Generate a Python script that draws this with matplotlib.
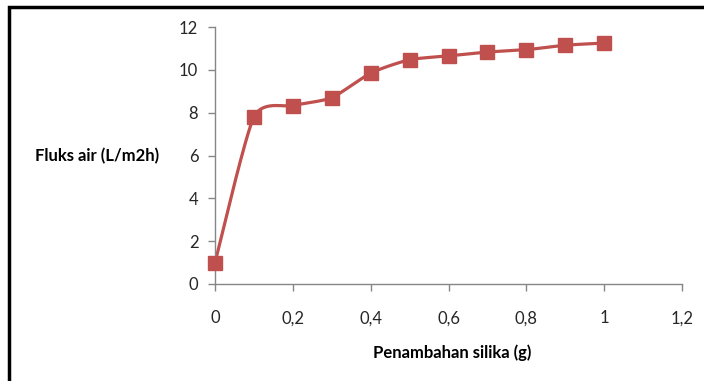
import numpy as np
import matplotlib.pyplot as plt
from matplotlib.patches import Rectangle
from matplotlib.ticker import FuncFormatter

# data
silika = [0, 0.1, 0.2, 0.3, 0.4, 0.5, 0.6, 0.7, 0.8, 0.9, 1.0]
fluks = [1.0, 7.8, 8.33, 8.7, 9.85, 10.47, 10.65, 10.83, 10.94, 11.15, 11.25]

x_ticks = [0, 0.2, 0.4, 0.6, 0.8, 1.0, 1.2]
y_ticks = [0, 2, 4, 6, 8, 10, 12]

RED = '#C0504D'
GREY = '#868686'

plt.rcParams['font.family'] = ['Lato', 'DejaVu Sans']


# Excel style smoothed line (cardinal spline as bezier segments)
def smooth(xs, ys, k=0.11, n=30):
    p = np.column_stack([xs, ys]).astype(float)
    ext = np.vstack([p[0], p, p[-1]])
    out = []
    for i in range(len(p) - 1):
        p0, p1, p2, p3 = ext[i], ext[i + 1], ext[i + 2], ext[i + 3]
        c1 = p1 + (p2 - p0) * k
        c2 = p2 - (p3 - p1) * k
        t = np.linspace(0, 1, n)[:, None]
        seg = (1 - t) ** 3 * p1 + 3 * (1 - t) ** 2 * t * c1 + 3 * (1 - t) * t ** 2 * c2 + t ** 3 * p2
        out.append(seg if i == 0 else seg[1:])
    out = np.vstack(out)
    return out[:, 0], out[:, 1]


fig = plt.figure(figsize=(7.04, 3.81), dpi=100)
ax = fig.add_axes([215 / 704, 1 - 284 / 381, 467 / 704, 257 / 381])

sx, sy = smooth(silika, fluks)
ax.plot(sx, sy, color=RED, lw=2.3, solid_capstyle='round', zorder=2)
ax.plot(silika, fluks, ls='none', marker='s', ms=9.5, color=RED, zorder=3, clip_on=False)

ax.set_xlim(0, 1.2)
ax.set_ylim(0, 12)
ax.set_xticks(x_ticks)
ax.set_yticks(y_ticks)
ax.xaxis.set_major_formatter(FuncFormatter(lambda v, p: ('%g' % round(v, 2)).replace('.', ',')))

for s in ['top', 'right']:
    ax.spines[s].set_visible(False)
for s in ['left', 'bottom']:
    ax.spines[s].set_color(GREY)
    ax.spines[s].set_linewidth(1.0)
ax.tick_params(axis='both', colors=GREY, length=5, width=1.0, labelsize=12, labelcolor='#262626')
ax.tick_params(axis='x', pad=14)
ax.tick_params(axis='y', pad=7)

fig.text(35 / 704, 1 - 156 / 381, 'Fluks air (L/m2h)', fontsize=12, fontweight='bold',
         ha='left', va='center')
fig.text(452 / 704, 1 - 353 / 381, 'Penambahan silika (g)', fontsize=12, fontweight='bold',
         ha='center', va='center')

# frame around the picture
fig.patches.append(Rectangle((9 / 704, -0.1), 1.1, 1 - 7 / 381 + 0.1, transform=fig.transFigure,
                             fill=False, edgecolor='black', lw=2.5))

fig.savefig('out.png', dpi=100)
